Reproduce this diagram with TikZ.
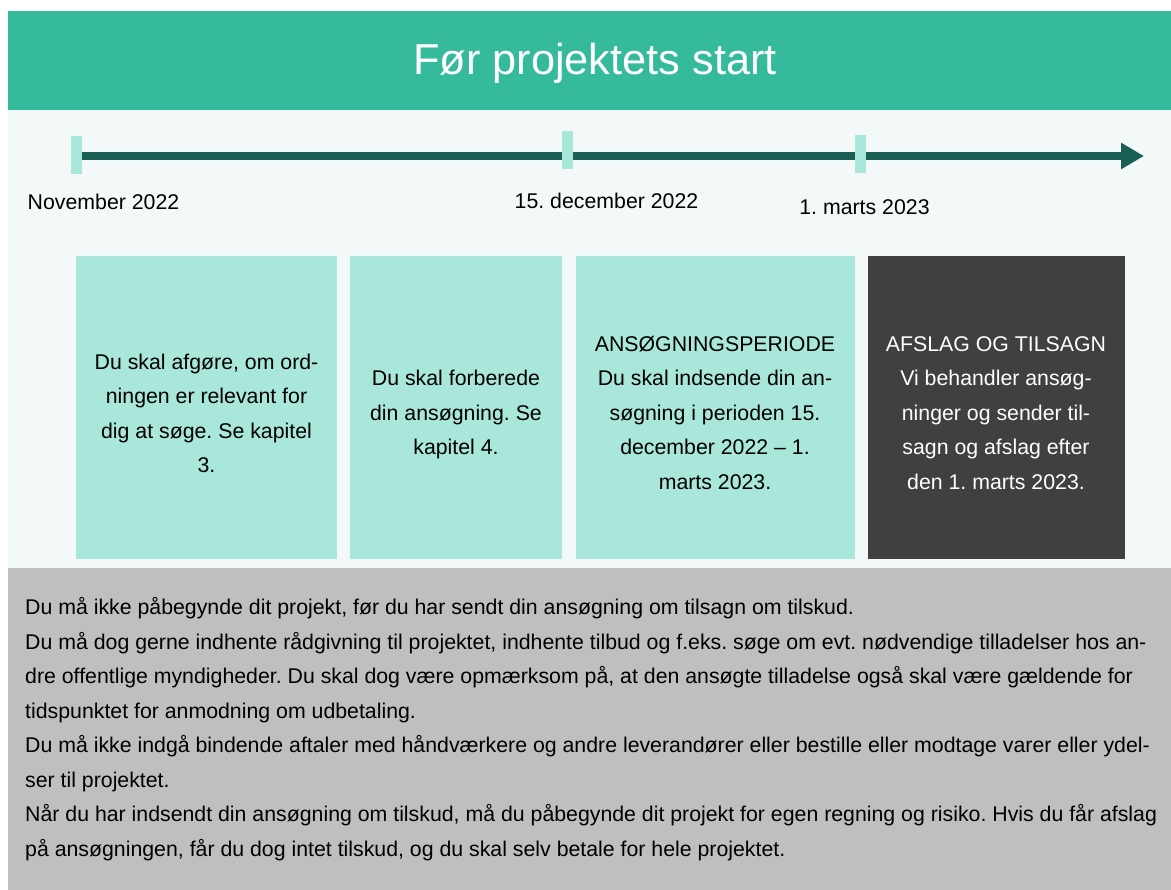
\documentclass[tikz,border=0pt]{standalone}
\usepackage{fontspec}
\setmainfont{Liberation Sans}
\frenchspacing
\usetikzlibrary{arrows.meta}
\definecolor{teal1}{HTML}{35BA9C}
\definecolor{paleband}{HTML}{F3F9F9}
\definecolor{darkline}{HTML}{1B5E53}
\definecolor{mint}{HTML}{A8E7D9}
\definecolor{darkcard}{HTML}{404040}
\definecolor{notegray}{HTML}{BFBFBF}
\newcommand{\bodyfont}{\fontsize{21.3pt}{34.5pt}\selectfont}
\tikzset{
  tickbox/.style={fill=mint, draw=none, minimum width=11pt, minimum height=38pt, inner sep=0pt},
  datelabel/.style={font=\bodyfont, anchor=base, inner sep=0pt, text=black},
  card/.style={draw=none, inner sep=0pt},
  cardtext/.style={align=center, anchor=base, inner sep=0pt, font=\bodyfont},
  timeline/.style={draw=darkline, line width=8pt, -{Triangle[length=23pt,width=25pt]}},
}
\begin{document}
\begin{tikzpicture}[x=1pt,y=-1pt]
\useasboundingbox (0,0) rectangle (1171,890);
\fill[white] (0,0) rectangle (1171,890);
% bands
\fill[teal1] (8,11) rectangle (1171,110);
\fill[paleband] (8,110) rectangle (1171,568);
\fill[notegray] (8,568) rectangle (1171,890);
% title
\node[anchor=base, inner sep=0pt, text=white, font=\fontsize{43.3pt}{50pt}\selectfont] (title) at (595,75) {Før projektets start};
% timeline
\coordinate (tlstart) at (82,156);
\coordinate (tlend) at (1144,156);
\draw[timeline] (tlstart) -- (tlend);
\node[tickbox] (tick1) at (76.5,155) {};
\node[tickbox] (tick2) at (567.5,150.5) {};
\node[tickbox] (tick3) at (860.5,154.5) {};
% date labels
\node[datelabel] (d1) at (103.5,210) {November 2022};
\node[datelabel] (d2) at (606.5,209) {15. december 2022};
\node[datelabel] (d3) at (864.5,215) {1. marts 2023};
% cards
\node[card, fill=mint, minimum width=261pt, minimum height=303pt] (c1) at (206.5,407.5) {};
\node[card, fill=mint, minimum width=212pt, minimum height=303pt] (c2) at (456,407.5) {};
\node[card, fill=mint, minimum width=279pt, minimum height=303pt] (c3) at (715.5,407.5) {};
\node[card, fill=darkcard, minimum width=257pt, minimum height=303pt] (c4) at (996,407.5) {};
% multi-line nodes: base anchor = baseline of last line
\node[cardtext] (t1) at (206.5,472.7) {Du skal afgøre, om ord-\\ningen er relevant for\\dig at søge. Se kapitel\\3.};
\node[cardtext] (t2) at (456,455) {Du skal forberede\\din ansøgning. Se\\kapitel 4.};
\node[cardtext] (t3) at (715,489.3) {ANSØGNINGSPERIODE\\Du skal indsende din an-\\søgning i perioden 15.\\december 2022 – 1.\\marts 2023.};
\node[cardtext, text=white] (t4) at (996,489.3) {AFSLAG OG TILSAGN\\Vi behandler ansøg-\\ninger og sender til-\\sagn og afslag efter\\den 1. marts 2023.};
% note text
\node[align=left, anchor=base west, inner sep=0pt, font=\bodyfont] (note) at (25,856) {Du må ikke påbegynde dit projekt, før du har sendt din ansøgning om tilsagn om tilskud.\\
Du må dog gerne indhente rådgivning til projektet, indhente tilbud og f.eks. søge om evt. nødvendige tilladelser hos an-\\
dre offentlige myndigheder. Du skal dog være opmærksom på, at den ansøgte tilladelse også skal være gældende for\\
tidspunktet for anmodning om udbetaling.\\
Du må ikke indgå bindende aftaler med håndværkere og andre leverandører eller bestille eller modtage varer eller ydel-\\
ser til projektet.\\
Når du har indsendt din ansøgning om tilskud, må du påbegynde dit projekt for egen regning og risiko. Hvis du får afslag\\
på ansøgningen, får du dog intet tilskud, og du skal selv betale for hele projektet.};
\end{tikzpicture}
\end{document}
